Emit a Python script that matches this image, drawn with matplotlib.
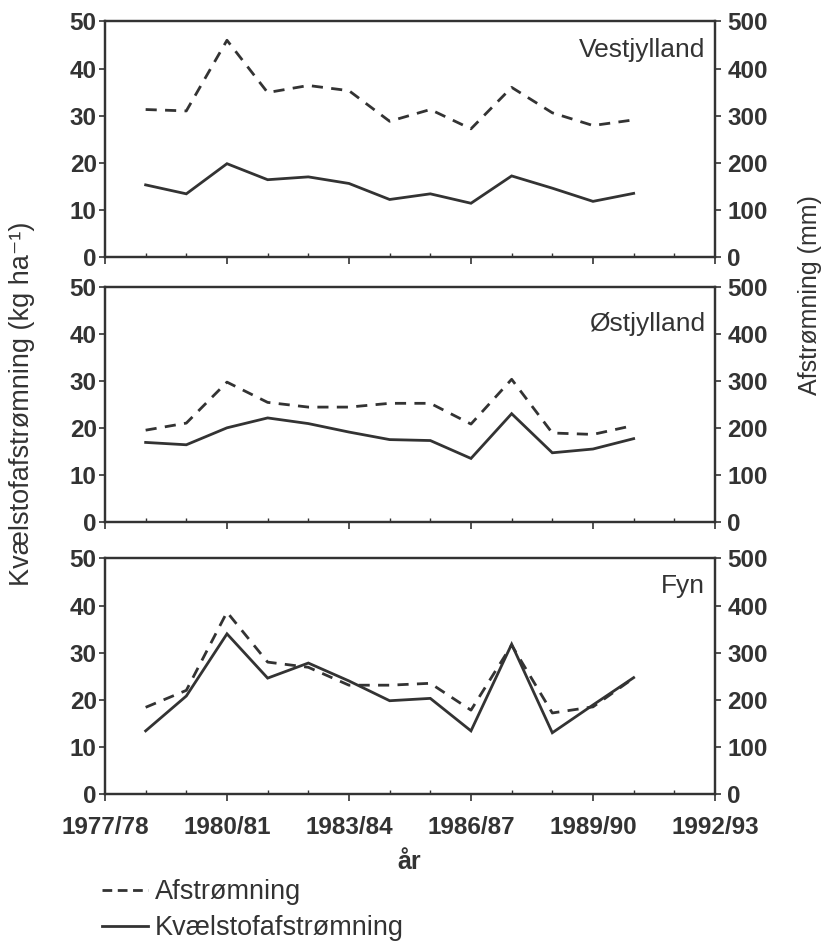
import matplotlib
matplotlib.use("Agg")
import matplotlib.pyplot as plt
from matplotlib.lines import Line2D
from matplotlib.ticker import MultipleLocator

plt.rcParams['font.family'] = ['Liberation Sans', 'DejaVu Sans']

# season start years (1978 -> 1978/79)
seasons = [1978, 1979, 1980, 1981, 1982, 1983, 1984, 1985, 1986, 1987, 1988, 1989, 1990]
tick_years = [1977, 1980, 1983, 1986, 1989, 1992]
regions = ["Vestjylland", "Østjylland", "Fyn"]

# Afstrømning (mm), right axis
vest_afs = [313, 310, 460, 349, 364, 353, 288, 313, 272, 360, 306, 279, 291]
ost_afs = [195, 210, 297, 254, 244, 244, 252, 252, 208, 303, 189, 186, 205]
fyn_afs = [184, 220, 386, 280, 269, 231, 231, 235, 178, 316, 172, 185, 246]

# Kvælstofafstrømning (kg/ha), left axis
vest_n = [15.3, 13.4, 19.8, 16.4, 17.0, 15.6, 12.2, 13.4, 11.4, 17.2, 14.6, 11.8, 13.5]
ost_n = [16.9, 16.4, 20.0, 22.1, 20.9, 19.1, 17.5, 17.3, 13.5, 23.0, 14.7, 15.5, 17.7]
fyn_n = [13.4, 20.8, 34.0, 24.6, 27.8, 24.0, 19.8, 20.3, 13.4, 31.8, 13.0, 18.9, 24.7]

afs_all = [vest_afs, ost_afs, fyn_afs]
n_all = [vest_n, ost_n, fyn_n]

col = '#333333'
lw = 2.0
dash = (0, (4, 3))

fig = plt.figure(figsize=(8.24, 9.44), dpi=100)
left, width = 0.1274, 0.7403
bottoms = [0.7278, 0.4470, 0.1589]
height = 0.2495
label_y = [0.88, 0.84, 0.885]

for i in range(3):
    ax = fig.add_axes([left, bottoms[i], width, height])
    ax2 = ax.twinx()
    ax.plot(seasons, n_all[i], color=col, lw=lw, solid_joinstyle='miter')
    ax2.plot(seasons, afs_all[i], color=col, lw=lw, linestyle=dash)
    ax.set_xlim(1977, 1992)
    ax.set_ylim(0, 50)
    ax2.set_ylim(0, 500)
    ax.yaxis.set_major_locator(MultipleLocator(10))
    ax2.yaxis.set_major_locator(MultipleLocator(100))
    ax.set_xticks(tick_years)
    ax.xaxis.set_minor_locator(MultipleLocator(1))
    if i == 2:
        ax.set_xticklabels([f"{y}/{(y + 1) % 100:02d}" for y in tick_years])
    else:
        ax.set_xticklabels([])
    for a in (ax, ax2):
        for s in a.spines.values():
            s.set_color(col)
            s.set_linewidth(1.6)
        a.tick_params(colors=col, labelsize=17.5, width=1.2, length=4, pad=2)
        for lab in a.get_yticklabels() + a.get_xticklabels():
            lab.set_fontweight('bold')
    ax.tick_params(axis='x', which='major', direction='out', length=5, pad=11)
    ax.tick_params(axis='x', which='minor', direction='in', length=3, width=1.0, color=col)
    ax2.tick_params(axis='y', pad=5)
    ax.text(0.984, label_y[i], regions[i], transform=ax.transAxes, ha='right', va='center',
            fontsize=19, color=col)

fig.text(0.027, 1 - 404 / 944, "Kvælstofafstrømning (kg ha⁻¹)", rotation=90,
         ha='center', va='center', fontsize=19.5, color=col)
fig.text(0.983, 1 - 295 / 944, "Afstrømning (mm)", rotation=90,
         ha='center', va='center', fontsize=18, color=col)
fig.text(0.497, 1 - 862 / 944, "år", ha='center', va='center', fontsize=18,
         fontweight='bold', color=col)

handles = [Line2D([], [], color=col, lw=lw, linestyle=(0, (3.5, 2))),
           Line2D([], [], color=col, lw=lw)]
fig.legend(handles, ["Afstrømning", "Kvælstofafstrømning"], loc='upper left',
           bbox_to_anchor=(0.124, 1 - 879 / 944), frameon=False, fontsize=19.5,
           handlelength=1.7, handletextpad=0.25, labelspacing=0.38, labelcolor=col,
           borderpad=0, borderaxespad=0)

fig.savefig("out.png", dpi=100)
